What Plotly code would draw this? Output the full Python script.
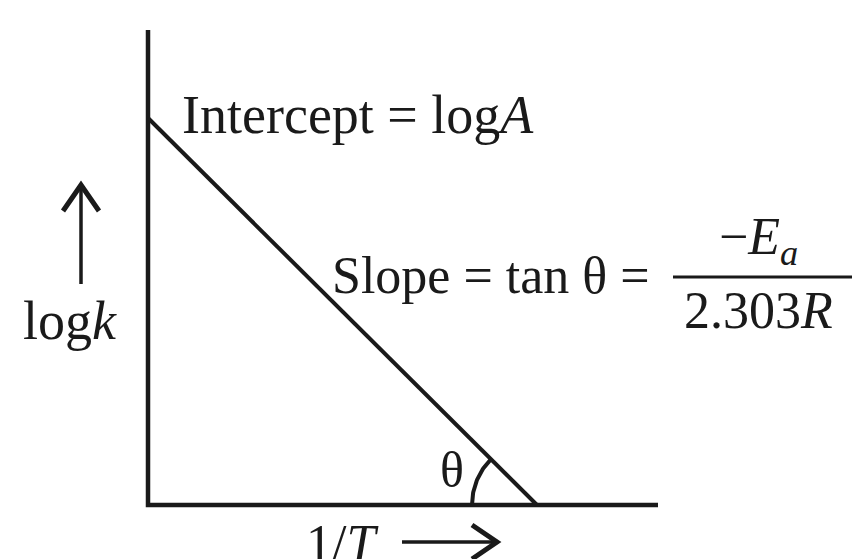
import numpy as np
import plotly.graph_objects as go

# Diagram values (units: chart units, origin at the axes corner)
intercept_logA = 387      # where the line meets the log k axis
x_intercept = 389         # where the line meets the 1/T axis
axis_x_len = 510
axis_y_len = 475
arc_radius = 65

# Labels
lbl_intercept = "Intercept = log<i>A</i>"
lbl_slope = "Slope = tan θ ="
lbl_num = "−<i>E</i><sub><i>a</i></sub>"
lbl_den = "2.303<i>R</i>"
lbl_y = "log<i>k</i>"
lbl_x = "1/<i>T</i>"
lbl_theta = "θ"

W, H = 854, 559
ox, oy = 148, 505  # pixel location of origin
xr = [-ox, W - ox]
yr = [-(H - oy), oy]

def px(x):
    return x - ox

def py(y):
    return oy - y

black = "#1a1a1a"
fig = go.Figure()

# axes
fig.add_trace(go.Scatter(x=[0, 0, axis_x_len], y=[axis_y_len, 0, 0], mode="lines",
                         line=dict(color=black, width=4.5), hoverinfo="skip"))
# straight line log k vs 1/T
fig.add_trace(go.Scatter(x=[0, x_intercept], y=[intercept_logA, 0], mode="lines",
                         line=dict(color=black, width=4), hoverinfo="skip"))
# theta arc
ang = np.arctan2(intercept_logA, x_intercept)
t = np.linspace(np.pi - ang, np.pi, 40)
fig.add_trace(go.Scatter(x=x_intercept + arc_radius * np.cos(t), y=arc_radius * np.sin(t),
                         mode="lines", line=dict(color=black, width=4), hoverinfo="skip"))
# fraction bar
fig.add_trace(go.Scatter(x=[px(673), px(852)], y=[py(277), py(277)], mode="lines",
                         line=dict(color=black, width=3), hoverinfo="skip"))
# up arrow
fig.add_trace(go.Scatter(x=[px(81), px(81)], y=[py(284), py(186)], mode="lines",
                         line=dict(color=black, width=3.5), hoverinfo="skip"))
fig.add_trace(go.Scatter(x=[px(63), px(81), px(99)], y=[py(211), py(185), py(211)], mode="lines",
                         line=dict(color=black, width=5), hoverinfo="skip"))
# right arrow
fig.add_trace(go.Scatter(x=[px(402), px(496)], y=[py(542), py(542)], mode="lines",
                         line=dict(color=black, width=3.5), hoverinfo="skip"))
fig.add_trace(go.Scatter(x=[px(472), px(497), px(472)], y=[py(525), py(542), py(559)], mode="lines",
                         line=dict(color=black, width=5), hoverinfo="skip"))

font = dict(family="Liberation Serif, Times New Roman, serif", size=52, color=black)

def ann(text, x, y, xanchor="center", size=52):
    fig.add_annotation(x=px(x), y=py(y), text=text, showarrow=False, xanchor=xanchor,
                       yanchor="middle", font=dict(font, size=size))

ann(lbl_intercept, 180, 115, xanchor="left", size=54)
ann(lbl_slope, 330, 275, xanchor="left")
ann(lbl_num, 758, 240)
ann(lbl_den, 758, 310)
ann(lbl_y, 70, 321, size=54)
ann(lbl_x, 342, 543)
ann(lbl_theta, 452, 470, size=50)

fig.update_layout(width=W, height=H, margin=dict(l=0, r=0, t=0, b=0),
                  paper_bgcolor="white", plot_bgcolor="white", showlegend=False,
                  xaxis=dict(range=xr, visible=False, fixedrange=True),
                  yaxis=dict(range=yr, visible=False, fixedrange=True))
fig.write_html("out.html", config={"displayModeBar": False, "staticPlot": True},
               post_script="document.body.style.margin='0';")
